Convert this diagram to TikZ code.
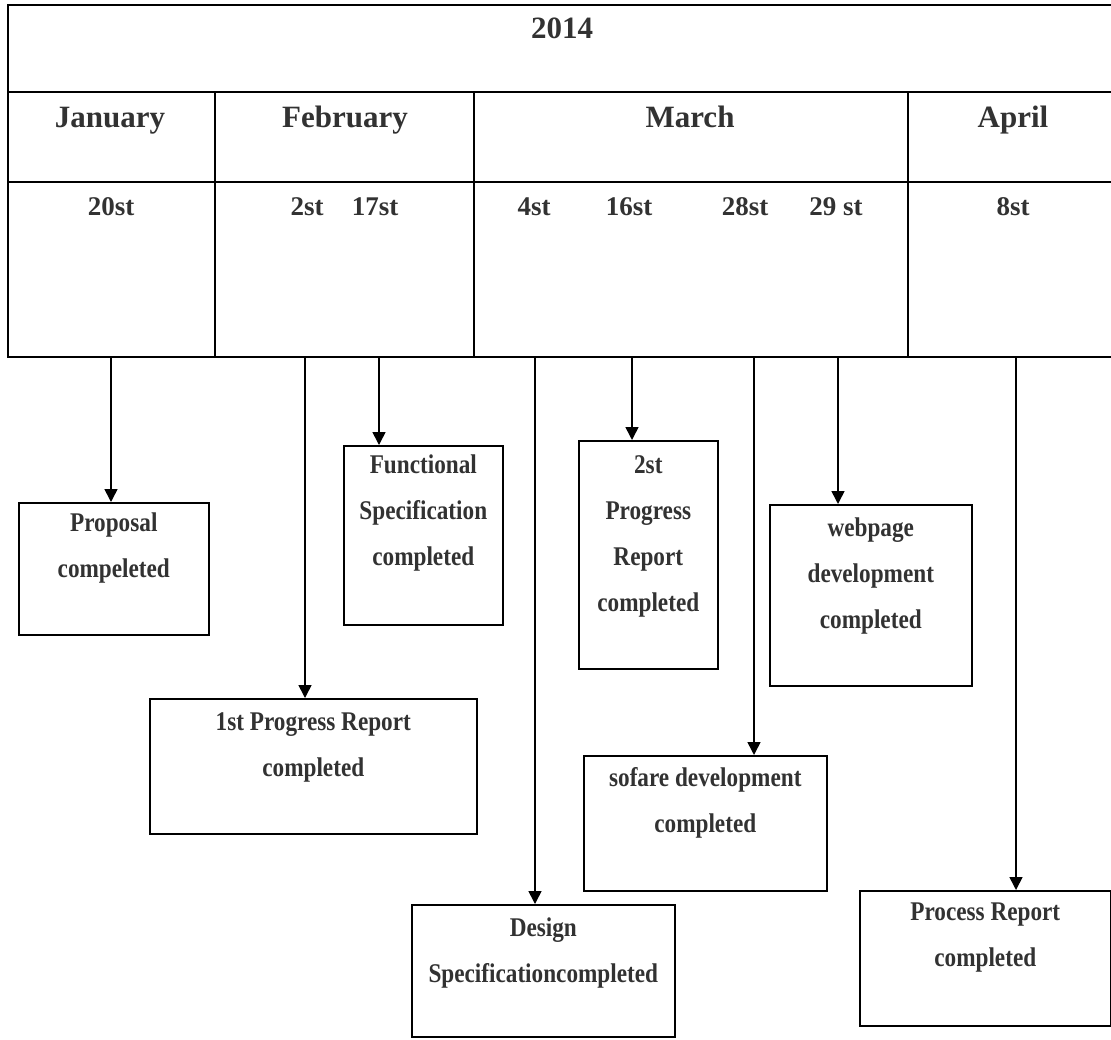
\documentclass[tikz,border=0pt]{standalone}
\usepackage{fontspec}
\setmainfont{Liberation Serif}
\newfontfamily\boxfont{Liberation Serif}[FakeStretch=0.86]
\usetikzlibrary{arrows.meta}
\definecolor{ink}{RGB}{50,50,50}
\begin{document}
\begin{tikzpicture}[x=1pt,y=-1pt,
  rule/.style={line width=1.6pt},
  boxnode/.style={draw, line width=1.6pt, anchor=north west, inner sep=0pt},
  head/.style={font=\fontsize{31}{31}\selectfont\bfseries, text=ink, inner sep=0pt, anchor=base},
  day/.style={font=\fontsize{27}{27}\selectfont\bfseries, text=ink, inner sep=0pt, anchor=base},
  lbl/.style={font=\boxfont\fontsize{27}{46}\selectfont\bfseries, text=ink, align=center, anchor=north, inner sep=0pt},
  arr/.style={line width=1.6pt, -{Triangle[width=13pt,length=13pt]}}]
\useasboundingbox (0,0) rectangle (1111,1039);
\fill[white] (0,0) rectangle (1111,1039);
% table
\draw[rule] (1111,5) -- (8,5) -- (8,357) -- (1111,357);
\draw[rule] (8,92) -- (1111,92);
\draw[rule] (8,182) -- (1111,182);
\draw[rule] (215,92) -- (215,357);
\draw[rule] (474,92) -- (474,357);
\draw[rule] (908,92) -- (908,357);
% headers
\node[head] (year) at (562,38) {2014};
\node[head] (jan) at (110,127) {January};
\node[head] (feb) at (345,127) {February};
\node[head] (mar) at (690,127) {March};
\node[head] (apr) at (1013,127) {April};
% dates
\node[day] (t20) at (111,215) {20st};
\node[day] (t2) at (307,215) {2st};
\node[day] (t17) at (375,215) {17st};
\node[day] (t4) at (534,215) {4st};
\node[day] (t16) at (629,215) {16st};
\node[day] (t28) at (745,215) {28st};
\node[day] (t29) at (836,215) {29 st};
\node[day] (t8) at (1013,215) {8st};
% arrow origins on table bottom
\coordinate (a20) at (111,357);
\coordinate (a2) at (305,357);
\coordinate (a17) at (379,357);
\coordinate (a4) at (535,357);
\coordinate (a16) at (632,357);
\coordinate (a28) at (754,357);
\coordinate (a29) at (838,357);
\coordinate (a8) at (1016,357);
% boxes
\node[boxnode, minimum width=190pt, minimum height=132pt] (prop) at (18,502) {};
\node[boxnode, minimum width=159pt, minimum height=179pt] (func) at (343,445) {};
\node[boxnode, minimum width=327pt, minimum height=135pt] (first) at (149,698) {};
\node[boxnode, minimum width=139pt, minimum height=228pt] (second) at (578,440) {};
\node[boxnode, minimum width=202pt, minimum height=181pt] (web) at (769,504) {};
\node[boxnode, minimum width=243pt, minimum height=135pt] (sof) at (583,755) {};
\node[boxnode, minimum width=263pt, minimum height=132pt] (design) at (411,904) {};
\node[boxnode, minimum width=251pt, minimum height=135pt] (proc) at (859,890) {};
% box texts
\node[lbl] (prop-t) at ([yshift=-11pt]prop.north) {Proposal\\compeleted};
\node[lbl] (func-t) at ([yshift=-10pt]func.north) {Functional\\Specification\\completed};
\node[lbl] (first-t) at ([yshift=-14pt]first.north) {1st Progress Report\\completed};
\node[lbl] (second-t) at ([yshift=-15pt]second.north) {2st\\Progress\\Report\\completed};
\node[lbl] (web-t) at ([yshift=-14pt]web.north) {webpage\\development\\completed};
\node[lbl] (sof-t) at ([yshift=-12pt]sof.north) {sofare development\\completed};
\node[lbl] (design-t) at ([yshift=-14pt]design.north) {Design\\Specificationcompleted};
\node[lbl] (proc-t) at ([yshift=-13pt]proc.north) {Process Report\\completed};
% arrows
\draw[arr] (a20) -- (a20 |- prop.north);
\draw[arr] (a2) -- (a2 |- first.north);
\draw[arr] (a17) -- (a17 |- func.north);
\draw[arr] (a4) -- (a4 |- design.north);
\draw[arr] (a16) -- (a16 |- second.north);
\draw[arr] (a28) -- (a28 |- sof.north);
\draw[arr] (a29) -- (a29 |- web.north);
\draw[arr] (a8) -- (a8 |- proc.north);
\end{tikzpicture}
\end{document}
